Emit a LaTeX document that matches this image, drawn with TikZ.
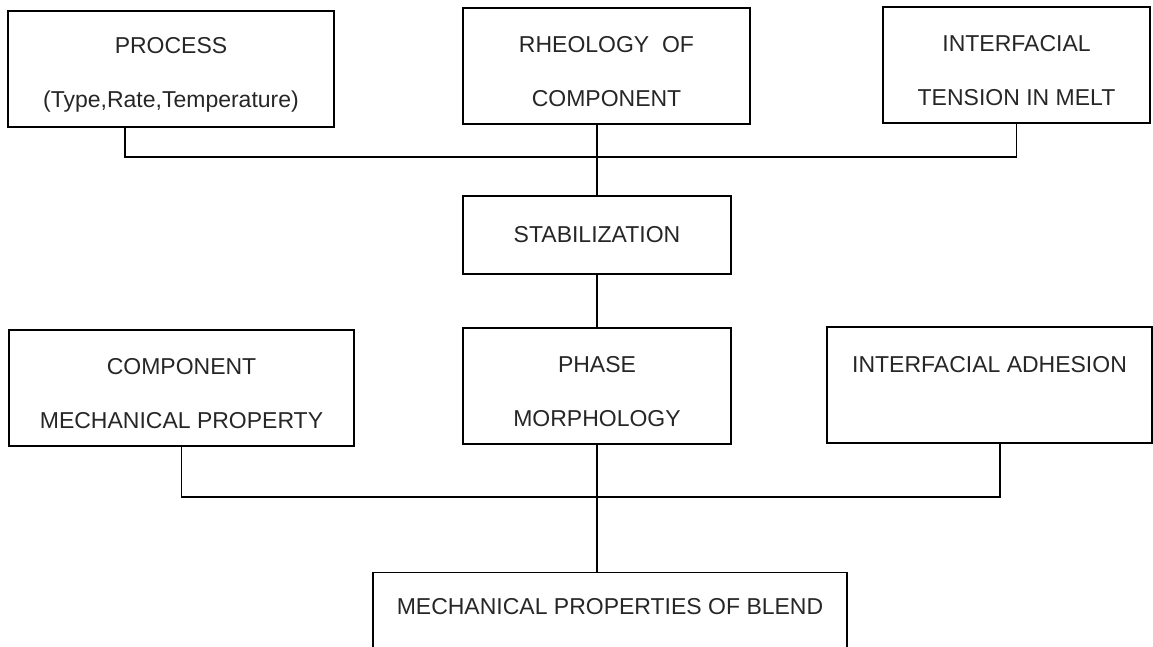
\documentclass[tikz,border=0pt]{standalone}
\usepackage{fontspec}
\setmainfont{Liberation Sans}
\newcommand{\lift}{\rule{0pt}{28pt}}
\tikzset{
  blk/.style={draw, line width=1.3pt, inner sep=0pt, align=center, text=black!85,
    font=\fontsize{23}{54}\selectfont},
  lnk/.style={line width=1.3pt},
}
\begin{document}
\begin{tikzpicture}[x=1pt, y=-1pt]
  \path[use as bounding box, clip] (0,0) rectangle (1153,646);

  % 1. top row of factors
  \node[blk, minimum width=326pt, minimum height=116pt] (proc) at (171,69) {\lift PROCESS\\(Type,Rate,Temperature)};
  \node[blk, minimum width=287pt, minimum height=116pt] (rheo) at (606.5,66) {\lift RHEOLOGY\ \ OF\\COMPONENT};
  \node[blk, minimum width=267pt, minimum height=116pt] (tens) at (1016.5,65) {\lift INTERFACIAL\\TENSION IN MELT};

  % 2. middle column
  \node[blk, minimum width=268pt, minimum height=78pt] (stab) at (597,235) {STABILIZATION};
  \node[blk, minimum width=268pt, minimum height=116pt] (phase) at (597,386) {\lift PHASE\\MORPHOLOGY};

  % 3. second row of factors
  \node[blk, minimum width=345pt, minimum height=116pt] (comp) at (181.5,388) {\lift COMPONENT\\MECHANICAL PROPERTY};
  \node[blk, minimum width=325pt, minimum height=116pt] (adh) at (989.5,385) {\lift INTERFACIAL ADHESION\\\mbox{}};

  % 4. result (runs off the lower edge)
  \node[blk, minimum width=474pt, minimum height=110pt, anchor=north] (blend) at (610,572) {\lift MECHANICAL PROPERTIES OF BLEND\\\mbox{}};

  % 5. connectors
  \coordinate (hub1) at (598,157);
  \coordinate (hub2) at (598,497);
  \draw[lnk] ([xshift=-46pt]proc.south) |- (hub1) -| (tens.south);
  \draw[lnk] (rheo.south -| stab.north) -- (stab.north);
  \draw[lnk] (stab.south) -- (phase.north);
  \draw[lnk] (comp.south) |- (hub2) -| ([xshift=10.5pt]adh.south);
  \draw[lnk] (phase.south) -- (phase.south |- blend.north);
\end{tikzpicture}
\end{document}
